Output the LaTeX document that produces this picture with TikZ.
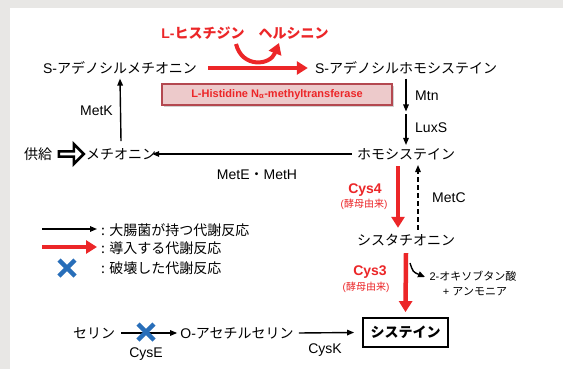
\documentclass[tikz,border=0pt]{standalone}
\usepackage{fontspec}
\setmainfont{Liberation Sans}
\newfontfamily\jp{Noto Sans CJK JP}
\usetikzlibrary{arrows.meta,shapes.arrows,shadows}
\definecolor{myred}{RGB}{236,38,40}
\definecolor{myblue}{RGB}{40,110,185}
\definecolor{bggray}{RGB}{232,231,229}
\definecolor{boxfill}{RGB}{237,202,203}
\definecolor{boxline}{RGB}{180,72,80}
\tikzset{
  lbl/.style={inner sep=1pt, font=\fontsize{14}{16}\selectfont},
  small/.style={inner sep=1pt, font=\fontsize{11}{13}\selectfont},
  tiny/.style={inner sep=1pt, font=\fontsize{10}{12}\selectfont, text=myred},
  redlbl/.style={inner sep=1pt, font=\fontsize{14}{16}\selectfont\bfseries, text=myred},
  blk/.style={line width=1.4pt, -{Triangle[length=7pt,width=5.5pt]}},
  redarr/.style={myred, line width=4pt, -{Triangle[length=11pt,width=13pt]}},
  cross/.style={myblue, line width=4.5pt},
}
\begin{document}
\begin{tikzpicture}[x=1pt,y=-1pt]
\fill[bggray] (0,0) rectangle (563,369);
\fill[white] (10,8) rectangle (563,369);
\useasboundingbox (0,0) rectangle (563,369);

% nodes
\node[redlbl] (his) at (245,33) {L-{\jp ヒスチジン　ヘルシニン}};
\node[lbl] (sam) at (120,68) {S-{\jp アデノシルメチオニン}};
\node[lbl] (sah) at (406,68) {S-{\jp アデノシルホモシステイン}};
\node[draw=boxline, line width=1.6pt, fill=boxfill, minimum width=230pt, minimum height=21pt, inner sep=1pt,
      drop shadow={opacity=0.35, shadow xshift=2pt, shadow yshift=-2pt},
      font=\fontsize{11}{13}\selectfont\bfseries, text=myred] (enz) at (277,94.5)
      {L-Histidine N\textsubscript{α}-methyltransferase};
\node[lbl] (sup) at (38,154) {\jp 供給};
\node[lbl] (met) at (121,154) {\jp メチオニン};
\node[lbl] (hcy) at (406,154) {\jp ホモシステイン};
\node[lbl] (cth) at (406,240) {\jp シスタチオニン};
\node[lbl, draw, line width=1.8pt, minimum width=85pt, minimum height=29pt, font=\fontsize{14}{16}\selectfont\bfseries] (cys) at (405.5,332.5) {\jp システイン};
\node[lbl] (ser) at (94,333) {\jp セリン};
\node[lbl] (oas) at (237,333) {O-{\jp アセチルセリン}};
\node[small] (oxo) at (473,276) {2-{\jp オキソブタン酸}};
\node[small] (amm) at (475,292) {+ {\jp アンモニア}};

% supply arrow
\node[single arrow, draw, line width=2.6pt, minimum width=20pt, minimum height=25pt,
      single arrow head extend=5pt, single arrow head indent=0pt, inner sep=0.5pt] (sarr) at (70,154) {};

% coordinates
\coordinate (mid) at (406,111.5);
\coordinate (cu1) at (236,44);
\coordinate (cu2) at (279,43);
\coordinate (sm1) at (410,263);
\coordinate (sm2) at (425,277);
\coordinate (lg1) at (42,229);
\coordinate (lg2) at (97,229);
\coordinate (lr1) at (42,247);
\coordinate (lr2) at (97,247);

% reactions
\draw[redarr] ([xshift=10pt]sam.east) -- ([xshift=-6pt]sah.west);
\draw[redarr] (cu1) .. controls (242,68) and (270,66) .. (cu2);
\draw[blk] ([yshift=6pt]met.north) -- ([yshift=-3pt]sam.south);
\draw[blk] ([yshift=-3pt]sah.south) -- (mid);
\draw[blk] ([yshift=-3pt]mid) -- ([yshift=2pt]hcy.north);
\draw[blk] ([xshift=-4pt]hcy.west) -- ([xshift=-5pt]met.east);
\draw[redarr, line width=4.5pt] ([xshift=-8pt,yshift=-5pt]hcy.south) -- ([xshift=-8pt,yshift=5pt]cth.north);
\draw[blk, dash pattern=on 5pt off 3pt] ([xshift=12pt,yshift=3pt]cth.north) -- ([xshift=12pt,yshift=-4pt]hcy.south);
\draw[redarr, line width=4.5pt] ([yshift=-6pt]cth.south) -- ([yshift=5pt]cys.north);
\draw[line width=1.4pt, -{Triangle[length=7pt,width=6pt]}] (sm1) .. controls (413,272) .. (sm2);
\draw[blk] ([xshift=5pt]ser.east) -- ([xshift=-2pt]oas.west);
\draw[blk] ([xshift=4pt]oas.east) -- ([xshift=-8pt]cys.west);

% crosses
\draw[cross] (138,324) -- (154,340) (154,324) -- (138,340);
\draw[cross] (59,260) -- (75,276) (75,260) -- (59,276);

% legend
\draw[blk] (lg1) -- (lg2);
\draw[redarr] (lr1) -- (lr2);
\node[lbl, anchor=west] (l1) at (100,230) {\jp : 大腸菌が持つ代謝反応};
\node[lbl, anchor=west] (l2) at (100,248) {\jp : 導入する代謝反応};
\node[lbl, anchor=west] (l3) at (100,268) {\jp : 破壊した代謝反応};

% labels
\node[lbl, anchor=east] (lk) at (114,111) {MetK};
\node[lbl, anchor=west] (lm) at (414,96) {Mtn};
\node[lbl, anchor=west] (lx) at (414,128) {LuxS};
\node[lbl] (le) at (257,175) {MetE{\jp ・}MetH};
\node[redlbl] (c4) at (365,190) {Cys4};
\node[tiny] (y4) at (364,204) {({\jp 酵母由来})};
\node[lbl, anchor=west] (lc) at (431,198) {MetC};
\node[redlbl] (c3) at (370,272) {Cys3};
\node[tiny] (y3) at (366,287) {({\jp 酵母由来})};
\node[lbl] (ce) at (146,354) {CysE};
\node[lbl] (ck) at (325,350) {CysK};
\end{tikzpicture}
\end{document}
